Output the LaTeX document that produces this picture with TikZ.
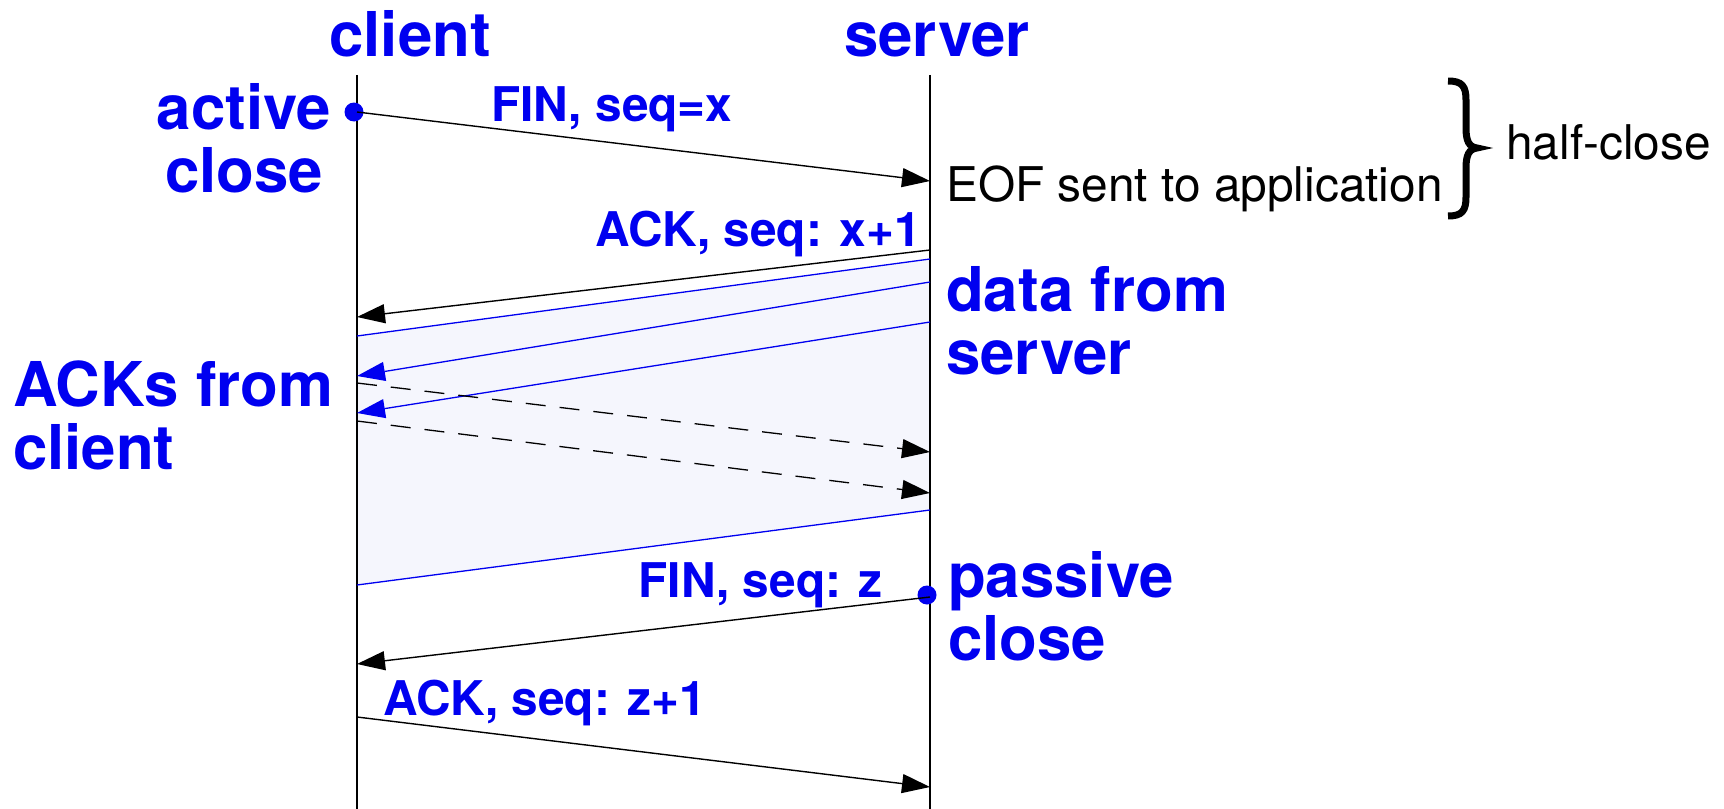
\documentclass[tikz,border=0pt]{standalone}
\usepackage{fontspec}
\setmainfont{TeX Gyre Heros}
\usetikzlibrary{arrows.meta}
\definecolor{tcpblue}{RGB}{0,0,240}
\definecolor{shadefill}{RGB}{245,246,253}
\tikzset{
  big/.style={font=\fontsize{62}{63}\selectfont\bfseries, text=tcpblue, inner sep=0pt, align=#1},
  big/.default=left,
  small/.style={font=\fontsize{48}{50}\selectfont\bfseries, text=tcpblue, inner sep=0pt},
  plain/.style={font=\fontsize{48}{50}\selectfont, text=black, inner sep=0pt},
  timeline/.style={line width=1.5bp, black},
  msg/.style={line width=1.4bp, black, -{Triangle[length=28bp,width=19bp]}},
  datamsg/.style={line width=1.3bp, tcpblue, -{Triangle[length=28bp,width=19bp]}},
  dataedge/.style={line width=1.3bp, tcpblue},
  ackmsg/.style={line width=1.3bp, black, dash pattern=on 20bp off 14bp, -{Triangle[length=28bp,width=19bp]}},
  dot/.style={circle, fill=tcpblue, inner sep=0pt, minimum size=19bp},
  bracestroke/.style={line width=7bp, black, line cap=butt, line join=miter},
}
\begin{document}
\begin{tikzpicture}[x=1bp,y=-1bp]
\useasboundingbox (0,0) rectangle (1724,809);
% headers
\node[big, anchor=base] (client) at (410,57) {client};
\node[big, anchor=base] (server) at (937,57) {server};
% timelines
\coordinate (ctop) at (357,75);
\coordinate (cbot) at (357,809);
\coordinate (stop) at (930,75);
\coordinate (sbot) at (930,809);
% shaded data region
\coordinate (d1s) at (930,259);
\coordinate (d1c) at (357,336);
\coordinate (d4s) at (930,510);
\coordinate (d4c) at (357,585);
\fill[shadefill] (d1s) -- (d1c) -- (d4c) -- (d4s) -- cycle;
\draw[dataedge] (d1c) -- (d4c);
\draw[timeline] (ctop) -- (cbot);
\draw[timeline] (stop) -- (sbot);
% FIN x
\node[dot] (adot) at (354,112) {};
\coordinate (fin1c) at (357,112);
\coordinate (fin1s) at (930,181);
\draw[msg] (fin1c) -- (fin1s);
\node[small, anchor=base west] (finx) at (491,121) {FIN, seq=x};
\node[big=center, anchor=base] (active) at (244,192) {active\\close};
\node[plain, anchor=base west] (eof) at (946,201) {EOF sent to application};
\draw[bracestroke] (1448,81) .. controls (1462,81) and (1466,86) .. (1466,100) -- (1466,128)
  .. controls (1466,141) and (1469,147) .. (1477,148)
  .. controls (1469,149) and (1466,155) .. (1466,168) -- (1466,197)
  .. controls (1466,211) and (1462,216) .. (1448,216);
\node[plain, anchor=base west] (half) at (1506,159) {half-close};
% ACK x+1
\coordinate (ack1s) at (930,250);
\coordinate (ack1c) at (357,317);
\draw[msg] (ack1s) -- (ack1c);
\node[small, anchor=base east] (ackx) at (921,246) {ACK, seq: x+1};
% data from server
\draw[dataedge] (d1s) -- (d1c);
\coordinate (d2s) at (930,282);
\coordinate (d2c) at (357,376);
\coordinate (d3s) at (930,322);
\coordinate (d3c) at (357,413);
\draw[datamsg] (d2s) -- (d2c);
\draw[datamsg] (d3s) -- (d3c);
\draw[dataedge] (d4s) -- (d4c);
\node[big, anchor=base west] (data) at (946,374) {data from\\server};
% ACKs from client
\coordinate (a1c) at (357,383);
\coordinate (a1s) at (930,452);
\coordinate (a2c) at (357,421);
\coordinate (a2s) at (930,493);
\draw[ackmsg] (a1c) -- (a1s);
\draw[ackmsg] (a2c) -- (a2s);
\node[big, anchor=base west] (acks) at (13,469) {ACKs from\\client};
% FIN z
\node[dot] (pdot) at (927,595) {};
\coordinate (fin2s) at (930,597);
\coordinate (fin2c) at (357,664);
\draw[msg] (fin2s) -- (fin2c);
\node[small, anchor=base east] (finz) at (883,597) {FIN, seq: z};
\node[big, anchor=base west] (passive) at (948,660) {passive\\close};
% ACK z+1
\coordinate (ack2c) at (357,717);
\coordinate (ack2s) at (930,787);
\draw[msg] (ack2c) -- (ack2s);
\node[small, anchor=base west] (ackz) at (383,715) {ACK, seq: z+1};
\end{tikzpicture}
\end{document}
